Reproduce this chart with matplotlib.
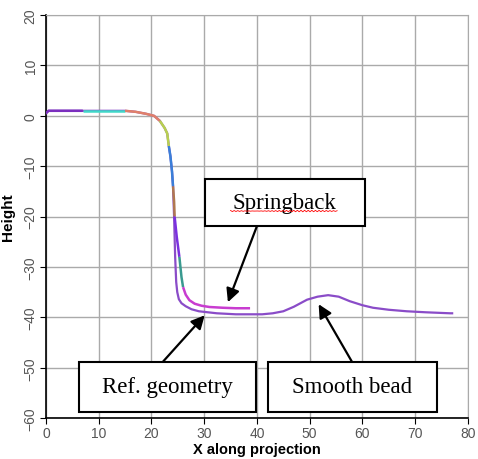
import numpy as np
import matplotlib
matplotlib.use("Agg")
from matplotlib import pyplot as plt
from matplotlib.patches import Rectangle

# springback profile (multi-coloured measured segments)
spring_x = [0, 0.5, 3, 7, 11, 15, 17, 19, 20.5, 21.6, 22.5, 23.0, 23.3, 23.6, 23.9,
            24.1, 24.3, 24.4, 24.8, 25.3, 25.5, 25.7, 26.0, 26.5, 27.2, 28.2, 29.5,
            31, 33.5, 36, 38.7]
spring_y = [0.5, 1, 1, 1, 1, 1, 0.8, 0.4, 0, -1, -2.4, -3.5, -6, -8, -11,
            -14, -17, -20, -24, -28, -30, -32, -34, -35.5, -36.6, -37.3, -37.7,
            -37.95, -38.1, -38.2, -38.2]
# index where each coloured segment starts/ends
seg_bounds = [0, 3, 5, 9, 12, 15, 17, 19, 22, 30]
seg_colors = ["#7b2fbe", "#40d8c8", "#e0806a", "#b8d050", "#3a7fd8",
              "#b07850", "#7a30e0", "#3a9a90", "#c83cd0"]

# reference geometry with smooth bead
ref_x = [0, 0.5, 3, 7, 11, 15, 17, 19, 20.5, 21.6, 22.5, 23.0, 23.3, 23.6, 23.9,
         24.1, 24.3, 24.5, 24.7, 24.9, 25.2, 25.7, 26.5, 27.6, 29, 32.4, 36, 41,
         43, 45, 47, 49.5, 51.5, 53.5, 55.5, 57.6, 60, 62, 65, 68.4, 72, 76.6, 77]
ref_y = [0.5, 1, 1, 1, 1, 1, 0.8, 0.4, 0, -1, -2.4, -3.5, -6, -8, -11,
         -14, -20, -28, -33, -35, -36.4, -37.2, -37.8, -38.4, -38.8, -39.2, -39.4, -39.4,
         -39.2, -38.8, -37.9, -36.5, -35.9, -35.6, -35.9, -36.8, -37.6, -38.1, -38.5, -38.8,
         -39.0, -39.2, -39.2]

x_ticks = [0, 10, 20, 30, 40, 50, 60, 70, 80]
y_ticks = [-60, -50, -40, -30, -20, -10, 0, 10, 20]

plt.rcParams["font.family"] = ["Liberation Sans", "DejaVu Sans"]

fig = plt.figure(figsize=(4.78, 4.60), dpi=100)
ax = fig.add_axes([0.096, 0.089, 0.883, 0.876])

ax.plot(ref_x, ref_y, color="#8a4cc8", lw=1.6, zorder=3)
for i, c in enumerate(seg_colors):
    a, b = seg_bounds[i], seg_bounds[i + 1]
    ax.plot(spring_x[a:b + 1], spring_y[a:b + 1], color=c, lw=1.8, zorder=4,
            solid_capstyle="butt")

ax.set_xlim(0, 80)
ax.set_ylim(-60, 20)
ax.set_xticks(x_ticks)
ax.set_yticks(y_ticks)
ax.tick_params(labelsize=10, labelcolor="#555555", direction="out", length=4, pad=2)
for lab in ax.get_yticklabels():
    lab.set_rotation(90)
    lab.set_va("center")
ax.grid(True, color="#aaaaaa", lw=1.0)
ax.spines["top"].set_color("#aaaaaa")
ax.spines["right"].set_color("#aaaaaa")
ax.spines["left"].set_linewidth(1.2)
ax.spines["bottom"].set_linewidth(1.2)
ax.set_xlabel("X along projection", fontsize=10.5, fontweight="bold", labelpad=1)
ax.set_ylabel("Height", fontsize=11, fontweight="bold", labelpad=6)


def label_box(x0, x1, y0, y1, text):
    ax.add_patch(Rectangle((x0, y0), x1 - x0, y1 - y0, facecolor="white",
                           edgecolor="black", lw=1.5, zorder=6, clip_on=False))
    ax.text((x0 + x1) / 2, (y0 + y1) / 2, text, family="Liberation Serif",
            fontsize=16.5, ha="center", va="center", zorder=7)


label_box(30.1, 60.5, -21.9, -12.6, "Springback")
label_box(6.3, 39.8, -58.7, -48.8, "Ref. geometry")
label_box(42.1, 74.1, -58.7, -48.8, "Smooth bead")

# red spell-check squiggle under "Springback"
wx = np.linspace(35.0, 55.2, 60)
ax.plot(wx, -18.9 + 0.15 * np.sin(wx * 9), color="red", lw=0.6, zorder=8)

arrow = dict(arrowstyle="-|>", mutation_scale=20, lw=1.6, color="black",
             shrinkA=0, shrinkB=0)
ax.annotate("", xy=(34.5, -37.0), xytext=(40.0, -21.9), arrowprops=arrow, zorder=5)
ax.annotate("", xy=(30.1, -39.6), xytext=(22.2, -48.8), arrowprops=arrow, zorder=5)
ax.annotate("", xy=(51.7, -37.4), xytext=(58.0, -48.8), arrowprops=arrow, zorder=5)

fig.savefig("out.png", dpi=100)
